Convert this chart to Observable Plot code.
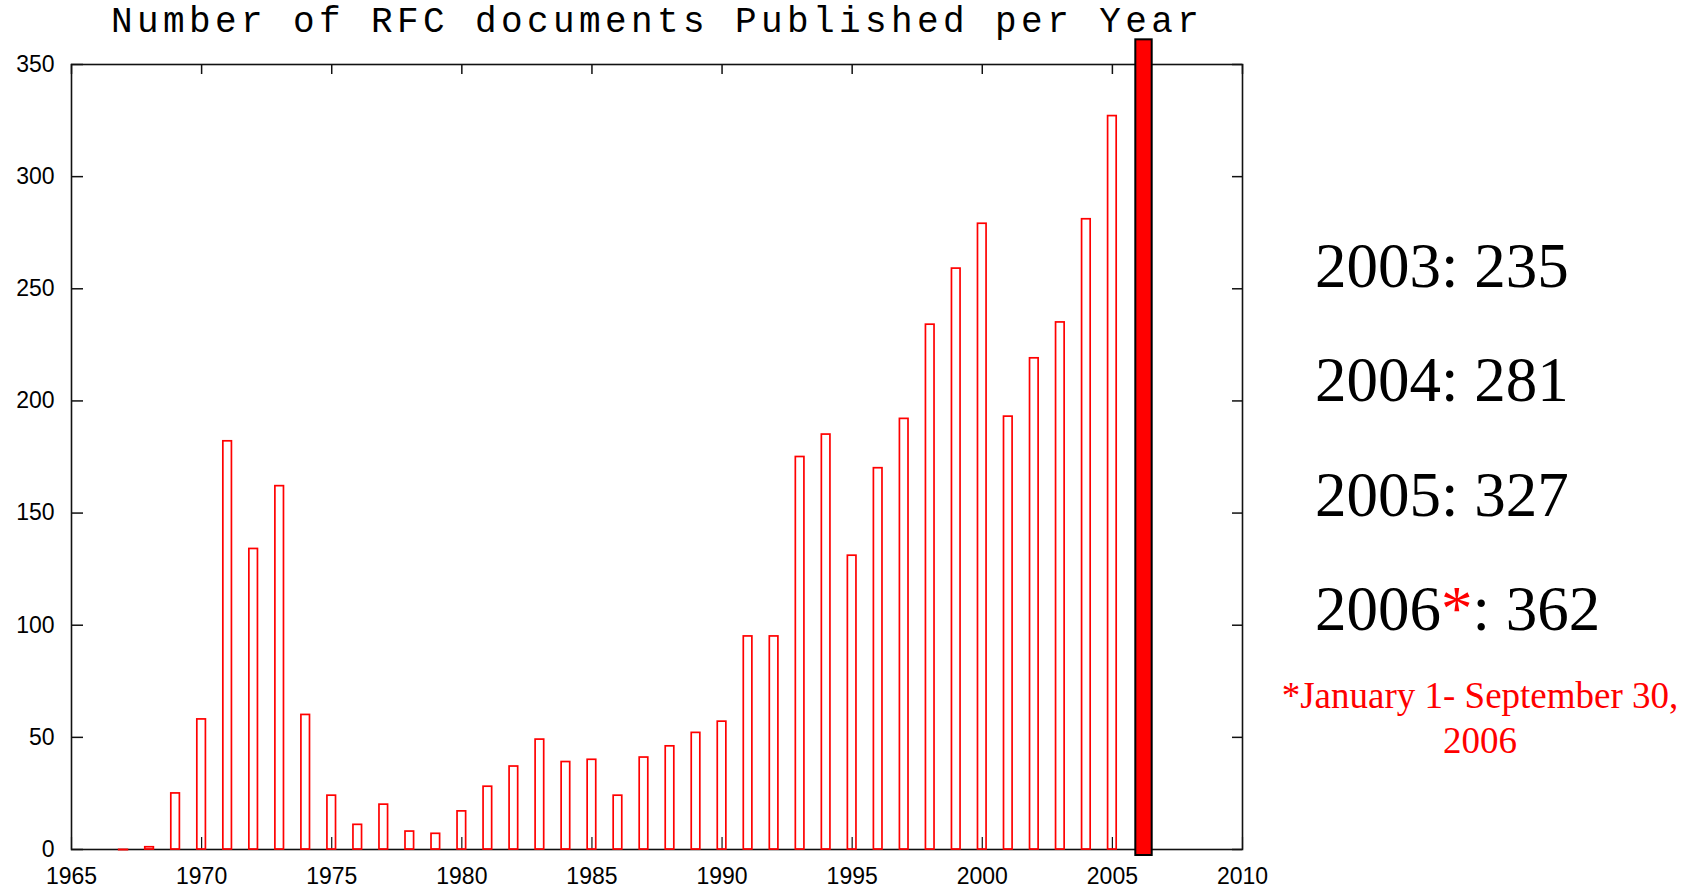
<!DOCTYPE html>
<html><head><meta charset="utf-8">
<script src="https://cdn.jsdelivr.net/npm/d3@7"></script>
<script src="https://cdn.jsdelivr.net/npm/@observablehq/plot@0.6"></script>
<style>
html,body{margin:0;padding:0;background:#fff;}
#wrap{position:relative;width:1695px;height:888px;overflow:hidden;background:#fff;}
#chart{position:absolute;left:0;top:0;}
.title{position:absolute;left:111px;top:5px;font-family:"Liberation Mono","Courier New",monospace;font-size:36px;letter-spacing:4.4px;line-height:36px;white-space:nowrap;color:#000;}
.stat{position:absolute;left:1315px;font-family:"Liberation Serif","Times New Roman",serif;font-size:63px;line-height:63px;white-space:nowrap;color:#000;}
.red{color:#ff0000;}
.note{position:absolute;left:1280px;width:400px;top:674px;text-align:center;font-family:"Liberation Serif","Times New Roman",serif;font-size:37px;line-height:44.5px;white-space:nowrap;color:#ff0000;}
</style>
</head><body>
<div id="wrap">
  <div id="chart"></div>
  <div class="title" id="title"></div>
  <div id="stats"></div>
  <div class="note" id="note"></div>
</div>
<script>
const titleText = "Number of RFC documents Published per Year";
const years  = [1967,1968,1969,1970,1971,1972,1973,1974,1975,1976,1977,1978,1979,1980,1981,1982,1983,1984,1985,1986,1987,1988,1989,1990,1991,1992,1993,1994,1995,1996,1997,1998,1999,2000,2001,2002,2003,2004,2005,2006];
const counts = [0,1,25,58,182,134,162,60,24,11,20,8,7,17,28,37,49,39,40,24,41,46,52,57,95,95,175,185,131,170,192,234,259,279,193,219,235,281,327,361];
const partialYear = 2006;
const yTicks = [0,50,100,150,200,250,300,350];
const xTicks = [1965,1970,1975,1980,1985,1990,1995,2000,2005,2010];
const statYears  = ["2003","2004","2005","2006"];
const statValues = ["235","281","327","362"];
const noteLines = ["*January 1- September 30,", "2006"];

const data = years.map((year, i) => ({year, count: counts[i]}));
const full = data.filter(d => d.year !== partialYear && d.count > 0);
const zero = data.filter(d => d.count === 0);
const partial = data.filter(d => d.year === partialYear);

const W = 1695, H = 888, mL = 71, mR = 1695 - 1242, mT = 64, mB = 888 - 849;
const fw = W - mL - mR, fh = H - mT - mB;
const axisColor = "#111";

const chart = Plot.plot({
  width: W, height: H,
  marginLeft: mL, marginRight: mR, marginTop: mT, marginBottom: mB,
  x: {type: "linear", domain: [1965, 2010]},
  y: {type: "linear", domain: [0, 350]},
  style: {fontFamily: "'Liberation Sans', Arial, sans-serif", fontSize: "23px", color: "#000", background: "#fff", overflow: "visible"},
  marks: [
    Plot.axisY(yTicks, {anchor: "left", tickSize: 0, tickPadding: 17, tickFormat: "d", fontSize: 23, label: null}),
    Plot.axisX(xTicks, {anchor: "bottom", tickSize: 0, tickPadding: 18, tickFormat: "d", fontSize: 23, label: null}),
    Plot.tickY(yTicks, {y: d => d, insetRight: fw - 12, stroke: axisColor, strokeWidth: 1.5}),
    Plot.tickY(yTicks, {y: d => d, insetLeft: fw - 10, stroke: axisColor, strokeWidth: 1.5}),
    Plot.tickX(xTicks, {x: d => d, insetBottom: fh - 10, stroke: axisColor, strokeWidth: 1.5}),
    Plot.tickX(xTicks, {x: d => d, insetTop: fh - 12, stroke: axisColor, strokeWidth: 1.2}),
    Plot.frame({stroke: axisColor, strokeWidth: 1.6}),
    Plot.ruleY(zero, {y: "count", x1: d => d.year - 0.2, x2: d => d.year + 0.2, stroke: "#ff0000", strokeWidth: 2}),
    Plot.rect(full, {x1: d => d.year - 0.165, x2: d => d.year + 0.165, y1: d => 0, y2: "count", fill: "none", stroke: "#ff0000", strokeWidth: 1.7}),
    Plot.rect(partial, {x1: d => d.year - 0.1, x2: d => d.year + 0.53, y1: d => 0, y2: "count", fill: "#ff0000", stroke: "#000", strokeWidth: 2, insetBottom: -6})
  ]
});
document.getElementById("chart").appendChild(chart);

document.getElementById("title").textContent = titleText;

const statTops = [235, 349, 464, 578];
const stats = document.getElementById("stats");
statYears.forEach((y, i) => {
  const div = document.createElement("div");
  div.className = "stat";
  div.style.top = statTops[i] + "px";
  if (+y === partialYear) {
    div.innerHTML = y + '<span class="red">*</span>: ' + statValues[i];
  } else {
    div.textContent = y + ": " + statValues[i];
  }
  stats.appendChild(div);
});

const note = document.getElementById("note");
noteLines.forEach((t, i) => {
  if (i) note.appendChild(document.createElement("br"));
  note.appendChild(document.createTextNode(t));
});
</script>
</body></html>
